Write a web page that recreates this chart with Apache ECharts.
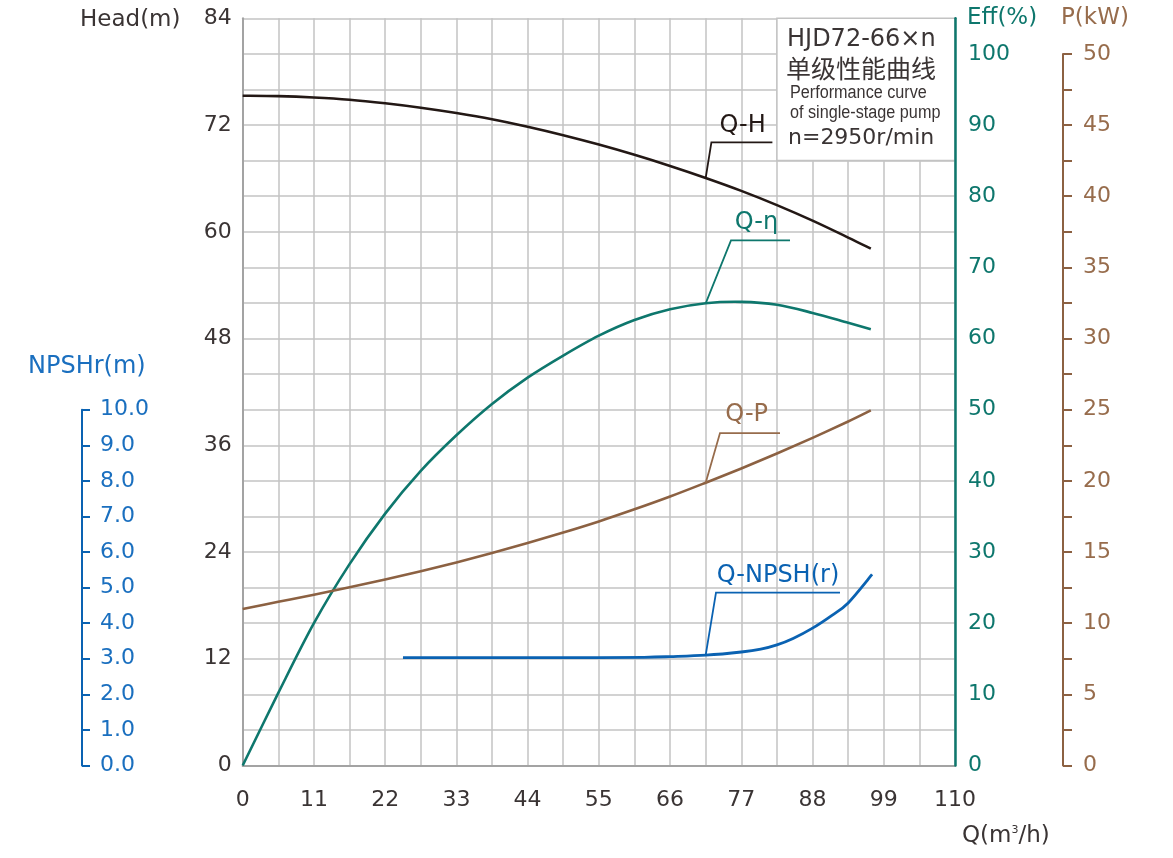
<!DOCTYPE html>
<html><head><meta charset="utf-8">
<script src="https://cdn.jsdelivr.net/npm/echarts@6/dist/echarts.min.js"></script>
<style>html,body{margin:0;padding:0;background:#fff}#c{width:1173px;height:858px}</style>
</head><body><div id="c"></div>
<script>
// ---------- data ----------
const headQ   = [0,5.5,11,16.5,22,27.5,33,38.5,44,49.5,55,60.5,66,71.5,77,82.5,88,93.5,97];
const headVal = [75.3,75.25,75.1,74.85,74.45,73.95,73.35,72.65,71.8,70.85,69.8,68.65,67.4,66.05,64.6,63.0,61.25,59.35,58.1];

const effQ   = [0,5.5,11,16.5,22,27.5,33,38.5,44,49.5,55,60.5,66,71.5,77,82.5,88,93.5,97];
const effVal = [0,10.2,20,28.3,35.4,41.4,46.4,50.8,54.5,57.6,60.4,62.6,64.1,64.95,65.15,64.75,63.6,62.2,61.3];

const powQ   = [0,5.5,11,16.5,22,27.5,33,38.5,44,49.5,55,60.5,66,71.5,77,82.5,88,93.5,97];
const powVal = [11.0,11.5,12.0,12.52,13.07,13.65,14.27,14.93,15.63,16.37,17.15,18.0,18.9,19.87,20.87,21.92,23.02,24.17,24.95];

const npshQ   = [24.75,33,44,55,62,66,71.5,77,80,82.5,85,88,91,93.5,97.2];
const npshVal = [3.03,3.03,3.03,3.03,3.04,3.06,3.1,3.19,3.27,3.39,3.57,3.86,4.22,4.57,5.37];

const qTickLabels = [0,11,22,33,44,55,66,77,88,99,110];
const headTickLabels = [0,12,24,36,48,60,72,84];

// ---------- layout ----------
const L = 242.7, R = 955, T = 18.3, B = 765.5, CW = 1173, CH = 858;
const plotH = B - T;
const topP = B - plotH * 50 / 52.5;
const topN = B - plotH * 40 / 84;
const FONT = 'DejaVu Sans';
const cDark = '#3a3434', cBlack = '#231815', cTeal = '#0e776d', cBrown = '#8c6142', cBrownT = '#976c4c', cBlue = '#0a62b2', cBlueT = '#1a6fbf';
const gridColor = '#c3c3c3', axisGrey = '#a3a3a3';

const zip = (a, b) => a.map((v, i) => [v, b[i]]);

const chart = echarts.init(document.getElementById('c'), null, {renderer: 'canvas'});

const hiddenX = (gi) => ({type: 'value', gridIndex: gi, min: 0, max: 110, show: false});

// smooth curve through the data points (Catmull-Rom), positioned by the axes via api.coord
function curveSeries(name, xi, yi, xs, ys, color, width) {
  const pts = zip(xs, ys);
  return {
    name: name, type: 'custom', coordinateSystem: 'cartesian2d',
    xAxisIndex: xi, yAxisIndex: yi, data: pts, z: 4, silent: true,
    encode: {x: 0, y: 1},
    renderItem: function (params, api) {
      if (params.dataIndex !== 0) return null;
      const p = pts.map(d => api.coord(d));
      let d = 'M' + p[0][0] + ' ' + p[0][1];
      for (let i = 0; i < p.length - 1; i++) {
        const p0 = p[Math.max(i - 1, 0)], p1 = p[i], p2 = p[i + 1], p3 = p[Math.min(i + 2, p.length - 1)];
        const c1 = [p1[0] + (p2[0] - p0[0]) / 6, p1[1] + (p2[1] - p0[1]) / 6];
        const c2 = [p2[0] - (p3[0] - p1[0]) / 6, p2[1] - (p3[1] - p1[1]) / 6];
        d += ' C' + c1[0] + ' ' + c1[1] + ' ' + c2[0] + ' ' + c2[1] + ' ' + p2[0] + ' ' + p2[1];
      }
      return {type: 'path', shape: {pathData: d}, style: {stroke: color, lineWidth: width, fill: null, lineCap: 'butt'}};
    }
  };
}

const option = {
  backgroundColor: '#fff',
  animation: false,
  grid: [
    {left: L, right: CW - R, top: T, bottom: CH - B},
    {left: L, right: CW - R, top: topP, bottom: CH - B},
    {left: L, right: CW - R, top: topN, bottom: CH - B}
  ],
  xAxis: [
    {
      type: 'value', gridIndex: 0, min: 0, max: 110, interval: 11,
      axisLine: {show: true, onZero: false, lineStyle: {color: axisGrey, width: 2}},
      axisTick: {show: false},
      minorTick: {show: false, splitNumber: 2},
      splitLine: {show: true, lineStyle: {color: gridColor, width: 1.5}},
      minorSplitLine: {show: true, lineStyle: {color: gridColor, width: 1.5}},
      axisLabel: {
        color: cDark, fontFamily: FONT, fontSize: 22, margin: 24,
        formatter: v => (qTickLabels.indexOf(v) >= 0 ? String(v) : '')
      }
    },
    hiddenX(1),
    hiddenX(2)
  ],
  yAxis: [
    {
      type: 'value', gridIndex: 0, min: 0, max: 84, interval: 12, position: 'left',
      axisLine: {show: true, onZero: false, lineStyle: {color: axisGrey, width: 2}},
      axisTick: {show: false},
      minorTick: {show: false, splitNumber: 3},
      splitLine: {show: true, lineStyle: {color: gridColor, width: 1.5}},
      minorSplitLine: {show: true, lineStyle: {color: gridColor, width: 1.5}},
      axisLabel: {
        color: cDark, fontFamily: FONT, fontSize: 22, margin: 11,
        formatter: v => (headTickLabels.indexOf(v) >= 0 ? String(v) : '')
      }
    },
    {
      type: 'value', gridIndex: 0, min: 0, max: 105, interval: 10, position: 'right', z: 6,
      axisLine: {show: true, onZero: false, lineStyle: {color: cTeal, width: 2.5}},
      axisTick: {show: false},
      splitLine: {show: false},
      axisLabel: {
        color: cTeal, fontFamily: FONT, fontSize: 22, margin: 13,
        formatter: v => (v % 10 === 0 ? String(v) : '')
      }
    },
    {
      type: 'value', gridIndex: 1, min: 0, max: 50, interval: 2.5, position: 'right', offset: 1063 - R,
      axisLine: {show: true, onZero: false, lineStyle: {color: cBrown, width: 2}},
      axisTick: {show: true, length: 9, lineStyle: {color: cBrown, width: 2}},
      splitLine: {show: false},
      axisLabel: {
        color: cBrownT, fontFamily: FONT, fontSize: 22, margin: 20,
        formatter: v => (Math.abs(v % 5) < 1e-6 ? String(Math.round(v)) : '')
      }
    },
    {
      type: 'value', gridIndex: 2, min: 0, max: 10, interval: 1, position: 'left', offset: L - 82,
      axisLine: {show: true, onZero: false, lineStyle: {color: cBlue, width: 2}},
      axisTick: {show: true, inside: true, length: 8, lineStyle: {color: cBlue, width: 2}},
      splitLine: {show: false},
      axisLabel: {
        inside: true, color: cBlueT, fontFamily: FONT, fontSize: 22, margin: 18,
        formatter: v => v.toFixed(1)
      }
    }
  ],
  series: [
    curveSeries('Q-H', 0, 0, headQ, headVal, cBlack, 2.6),
    curveSeries('Q-η', 0, 1, effQ, effVal, cTeal, 2.6),
    curveSeries('Q-P', 1, 2, powQ, powVal, cBrown, 2.6),
    curveSeries('Q-NPSH(r)', 2, 3, npshQ, npshVal, cBlue, 2.8),
    {
      name: 'box', type: 'line', xAxisIndex: 0, yAxisIndex: 0, data: [], z: 3,
      markArea: {
        silent: true,
        itemStyle: {color: '#ffffff', borderColor: gridColor, borderWidth: 1.5},
        data: [[{coord: [82.5, 68]}, {coord: [110, 84]}]]
      }
    }
  ]
};
chart.setOption(option);

// ---------- annotations ----------
function txt(x, y, text, color, size, opts) {
  opts = opts || {};
  return {
    type: 'text', x: x, y: y, z: 20, scaleX: opts.scaleX || 1,
    style: {
      text: text, fill: color, fontFamily: opts.font || FONT, fontSize: size,
      textAlign: opts.align || 'left', textVerticalAlign: 'middle', rich: opts.rich
    }
  };
}
function leader(finder, q, v, dx, dy, len, label, color, tdx, tdy) {
  const p = chart.convertToPixel(finder, [q, v]);
  const kx = p[0] + dx, ky = p[1] + dy;
  return [
    {type: 'polyline', z: 20, shape: {points: [[p[0], p[1]], [kx, ky], [kx + len, ky]]},
     style: {stroke: color, lineWidth: 1.8, fill: null}},
    txt(kx + tdx, ky + tdy, label, color, 24, {align: 'center'})
  ];
}

const g = [];
g.push(txt(80, 20, 'Head(m)', cDark, 23));
g.push(txt(967, 18, 'Eff(%)', cTeal, 23));
g.push(txt(1061, 18, 'P(kW)', cBrownT, 23));
g.push(txt(28, 367, 'NPSHr(m)', cBlueT, 24));
g.push(txt(962, 836, '{a|Q(m}{s|3}{a|/h)}', cDark, 23, {
  rich: {a: {fontFamily: FONT, fontSize: 23, fill: cDark, color: cDark},
         s: {fontFamily: FONT, fontSize: 11, fill: cDark, color: cDark, verticalAlign: 'top', padding: [0, 0, 12, 0]}}
}));

g.push(txt(787, 40, 'HJD72-66×n', cDark, 24));
g.push(txt(786, 68, '单级性能曲线', cDark, 25, {font: 'Noto Sans CJK SC'}));
g.push(txt(790, 93, 'Performance curve', cDark, 18, {font: 'Liberation Sans', scaleX: 0.9}));
g.push(txt(790, 113, 'of single-stage pump', cDark, 18, {font: 'Liberation Sans', scaleX: 0.9}));
g.push(txt(788, 138, 'n=2950r/min', cDark, 22));

g.push(...leader({xAxisIndex: 0, yAxisIndex: 0}, headQ[13], headVal[13], 5.7, -35.6, 61, 'Q-H', cBlack, 31.3, -16.7));
g.push(...leader({xAxisIndex: 0, yAxisIndex: 1}, effQ[13], effVal[13], 25.3, -63, 59, 'Q-η', cTeal, 25.5, -18));
g.push(...leader({xAxisIndex: 1, yAxisIndex: 2}, powQ[13], powVal[13], 14.3, -49.6, 60, 'Q-P', cBrownT, 26.7, -18));
g.push(...leader({xAxisIndex: 2, yAxisIndex: 3}, npshQ[6], npshVal[6], 10.3, -62.5, 124, 'Q-NPSH(r)', cBlue, 62, -17));

chart.setOption({graphic: {elements: g}});
</script>
</body></html>
